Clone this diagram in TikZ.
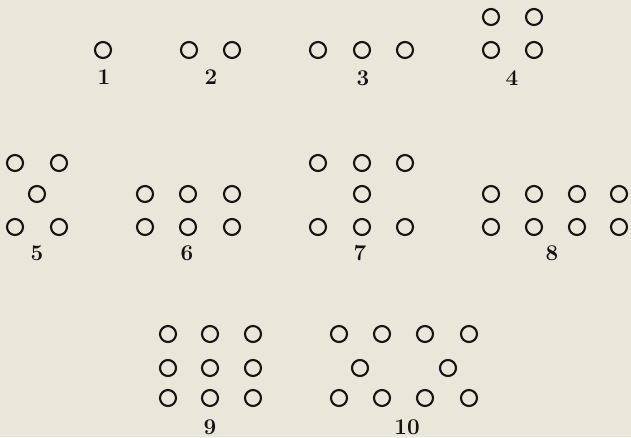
\documentclass[tikz,border=0pt]{standalone}
\usepackage{tikz}
\definecolor{paper}{RGB}{234,230,217}
\definecolor{ink}{RGB}{20,18,18}

\begin{document}
\begin{tikzpicture}[
  x=0.025cm, y=-0.025cm,
  dot/.style={draw=ink, circle, minimum size=0.40cm, inner sep=0pt, line width=1.5pt},
  num/.style={text=ink, font=\fontsize{16}{16}\selectfont\bfseries},
]
\fill[paper] (0,0) rectangle (631,437);
\useasboundingbox (0,0) rectangle (631,437);
% 1
\node[dot] (d1-1) at (103,50) {};
\node[num] (n1) at (104,77) {1};
% 2
\foreach \x [count=\i] in {189,232}
  \node[dot] (d2-\i) at (\x,50) {};
\node[num] (n2) at (211,77) {2};
% 3
\foreach \x [count=\i] in {318,362,405}
  \node[dot] (d3-\i) at (\x,50) {};
\node[num] (n3) at (363,78) {3};
% 4
\foreach \x/\y [count=\i] in {491/17,534/17,491/50,534/50}
  \node[dot] (d4-\i) at (\x,\y) {};
\node[num] (n4) at (512,78) {4};
% 5
\foreach \x/\y [count=\i] in {15/163,59/163,37/194,15/227,59/227}
  \node[dot] (d5-\i) at (\x,\y) {};
\node[num] (n5) at (37,253) {5};
% 6
\foreach \x/\y [count=\i] in {145/194,188/194,232/194,145/227,188/227,232/227}
  \node[dot] (d6-\i) at (\x,\y) {};
\node[num] (n6) at (187,253) {6};
% 7
\foreach \x/\y [count=\i] in {318/163,362/163,405/163,362/194,318/227,362/227,405/227}
  \node[dot] (d7-\i) at (\x,\y) {};
\node[num] (n7) at (360,253) {7};
% 8
\foreach \x/\y [count=\i] in {491/194,534/194,577/194,619/194,491/227,534/227,577/227,619/227}
  \node[dot] (d8-\i) at (\x,\y) {};
\node[num] (n8) at (552,253) {8};
% 9
\foreach \y [count=\j] in {334,368,398}
  \foreach \x [count=\i] in {168,210,253}
    \node[dot] (d9-\j\i) at (\x,\y) {};
\node[num] (n9) at (210,427) {9};
% 10
\foreach \x/\y [count=\i] in {339/334,382/334,425/334,469/334,360/368,448/368,339/398,382/398,425/398,469/398}
  \node[dot] (d10-\i) at (\x,\y) {};
\node[num] (n10) at (407,427) {10};
\end{tikzpicture}
\end{document}
